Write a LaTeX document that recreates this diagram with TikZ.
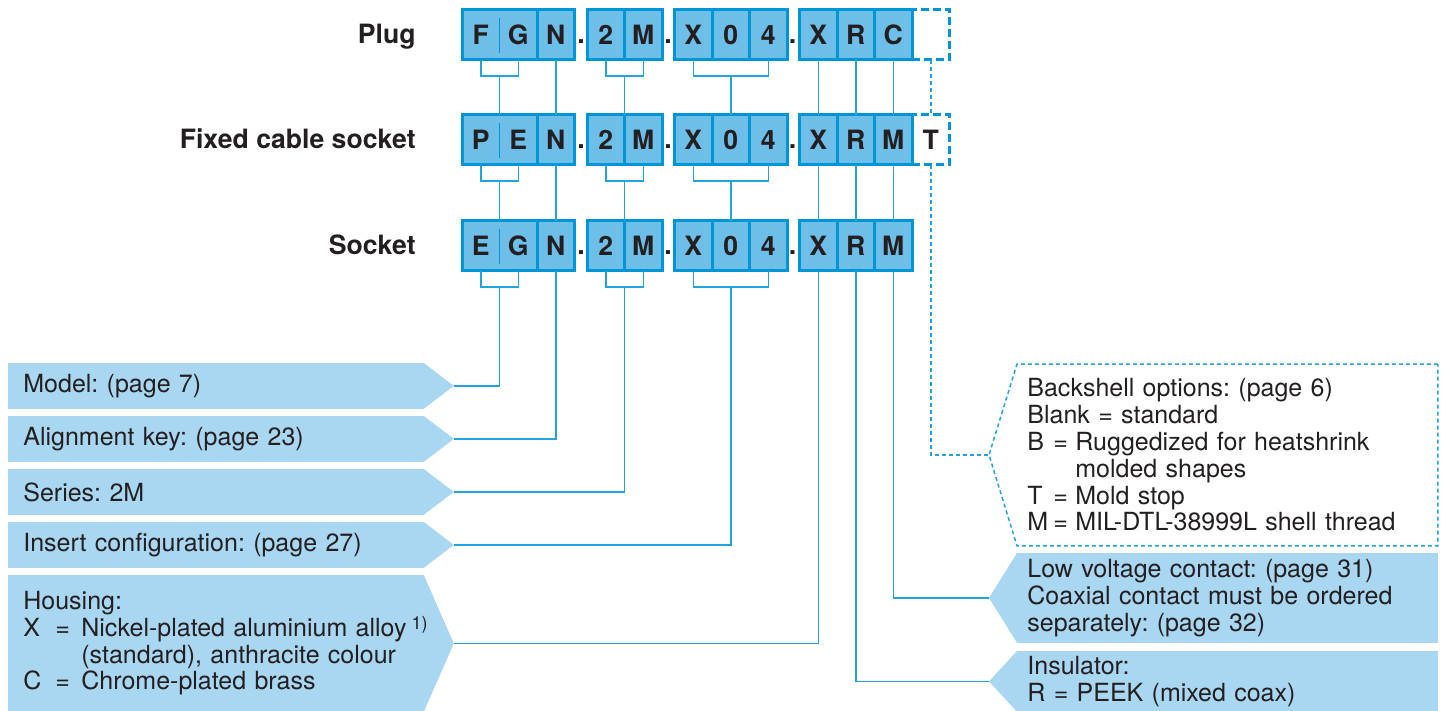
\documentclass[tikz,border=0pt]{standalone}
\usepackage{fontspec}
\setmainfont{TeX Gyre Heros}
\usetikzlibrary{positioning, calc, backgrounds}

\definecolor{cellfill}{HTML}{6DBFE9}
\definecolor{cellline}{HTML}{0096D6}
\definecolor{tagfill}{HTML}{A9D6F1}
\definecolor{linkblue}{HTML}{22A3DD}
\definecolor{ink}{HTML}{231F20}

\newcommand\hkey[1]{\makebox[16pt][l]{#1}\makebox[13pt][l]{=}}
\newcommand\bkey[1]{\makebox[13pt][l]{#1}\makebox[11pt][l]{=}}
\frenchspacing

\begin{document}
\begin{tikzpicture}[
        x=0.5pt, y=-0.5pt,
        font=\fontsize{12.5}{13.4}\selectfont, text=ink,
        cell/.style={draw=cellline, fill=cellfill, line width=1.5pt, minimum width=18.75pt, minimum height=25pt,
            inner sep=0pt, outer sep=0pt, font=\fontsize{13.3}{14}\selectfont\bfseries},
        cellpair/.style={cell, minimum width=37.5pt},
        blank/.style={cell, fill=none, dash pattern=on 4pt off 2pt},
        dotmark/.style={anchor=base, inner sep=0pt, font=\fontsize{13.3}{14}\selectfont\bfseries},
        rowname/.style={anchor=base east, inner sep=0pt, font=\fontsize{13.3}{14}\selectfont\bfseries},
        divline/.style={draw=cellline, line width=0.9pt},
        link/.style={draw=linkblue, line width=0.75pt},
        dashlink/.style={link, dash pattern=on 2pt off 1.5pt},
        tagL/.style={anchor=north west, align=left, text width=192.5pt, inner xsep=7.5pt, inner ysep=0pt},
        tagR/.style={anchor=north west, align=left, text width=200pt, inner xsep=5pt, inner ysep=0pt}
    ]
        \useasboundingbox (0,0) rectangle (1445,711);

        % the three order codes
        \foreach \r/\y/\a/\b/\c/\name in {p/35/F/G/C/Plug, f/140/P/E/M/Fixed cable socket, s/246/E/G/M/Socket} {
            \node[rowname] (\r-name) at (416,\y+9) {\name};
            \node[cellpair] (\r1) at (499.5,\y) {\makebox[18.75pt]{\a}\makebox[18.75pt]{\b}};
            \draw[divline] ([yshift=-4pt]\r1.north) -- ([yshift=3.5pt]\r1.south);
            \node[cell, right=0pt of \r1]    (\r2)  {N};
            \node[cell, right=6.25pt of \r2] (\r3)  {2};
            \node[cell, right=0pt of \r3]    (\r4)  {M};
            \node[cell, right=6.25pt of \r4] (\r5)  {X};
            \node[cell, right=0pt of \r5]    (\r6)  {0};
            \node[cell, right=0pt of \r6]    (\r7)  {4};
            \node[cell, right=6.25pt of \r7] (\r8)  {X};
            \node[cell, right=0pt of \r8]    (\r9)  {R};
            \node[cell, right=0pt of \r9]    (\r10) {\c};
            \node[dotmark] (\r-dot1) at (581,\y+9)   {.};
            \node[dotmark] (\r-dot2) at (668,\y+9)   {.};
            \node[dotmark] (\r-dot3) at (792.5,\y+9) {.};
        }
        \node[blank, right=0pt of p10] (p11) {};
        \node[blank, right=0pt of f10] (f11) {T};

        % description tags
        \node[tagL, minimum height=22.5pt] (model)  at (8,363) {Model: (page 7)};
        \node[tagL, minimum height=22.5pt] (align)  at (8,416) {Alignment key: (page 23)};
        \node[tagL, minimum height=22.5pt] (series) at (8,469) {Series: 2M};
        \node[tagL, minimum height=22.5pt] (insert) at (8,522) {Insert configuration: (page 27)};
        \node[tagL, minimum height=68pt]   (housing) at (8,575) {Housing:\\
            \hkey{X}\mbox{Nickel-plated aluminium alloy}\rlap{\hspace{2.5pt}\raisebox{3.5pt}{\fontsize{9}{9}\selectfont 1)}}\\
            \hspace*{29pt}(standard), anthracite colour\\
            \hkey{C}Chrome-plated brass};
        \node[tagR, minimum height=90.5pt] (back) at (1017,364) {Backshell options: (page 6)\\
            Blank = standard\\
            \bkey{B}Ruggedized for heatshrink\\
            \hspace*{24pt}molded shapes\\
            \bkey{T}Mold stop\\
            \bkey{M}MIL-DTL-38999L shell thread};
        \node[tagR, minimum height=44.5pt] (lowv) at (1017,553) {Low voltage contact: (page 31)\\
            Coaxial contact must be ordered\\
            separately: (page 32)};
        \node[tagR, minimum height=30pt] (insul) at (1017,651) {Insulator:\\R = PEEK (mixed coax)};

        \foreach \n in {model,align,series,insert,housing}
            \coordinate (\n-tip) at ($(\n.east)+(30,0)$);
        \foreach \n in {back,lowv,insul}
            \coordinate (\n-tip) at ($(\n.west)+(-28,0)$);

        \begin{scope}[on background layer]
            \foreach \n in {model,align,series,insert,housing}
                \fill[tagfill] (\n.north west) -- (\n.north east) -- (\n-tip) -- (\n.south east) -- (\n.south west) -- cycle;
            \foreach \n in {lowv,insul}
                \fill[tagfill] (\n.north east) -- (\n.north west) -- (\n-tip) -- (\n.south west) -- (\n.south east) -- cycle;
        \end{scope}
        \draw[dashlink] (back.north east) -- (back.north west) -- (back-tip) -- (back.south west) -- (back.south east) -- cycle;

        % links between the rows
        \foreach \a/\b in {p/f, f/s} {
            \draw[link] ([xshift=-9.375pt]\a1.south) -- ++(0,16) -| ([xshift=9.375pt]\a1.south);
            \draw[link] ([yshift=-8pt]\a1.south) -- (\b1.north);
            \draw[link] (\a2.south) -- (\b2.north);
            \draw[link] (\a3.south) -- ++(0,16) -| (\a4.south);
            \draw[link] ([yshift=-8pt]\a3.south east) -- (\b3.north east);
            \draw[link] (\a5.south) -- ++(0,16) -| (\a7.south);
            \draw[link] ([yshift=-8pt]\a6.south) -- (\b6.north);
            \foreach \i in {8,9,10}
                \draw[link] (\a\i.south) -- (\b\i.north);
        }
        \draw[dashlink] (p11.south) -- (f11.north);

        % links to the tags
        \draw[link] ([xshift=-9.375pt]s1.south) -- ++(0,16) -| ([xshift=9.375pt]s1.south);
        \draw[link] (s3.south) -- ++(0,16) -| (s4.south);
        \draw[link] (s5.south) -- ++(0,16) -| (s7.south);
        \draw[link] ([yshift=-8pt]s1.south) |- (model-tip);
        \draw[link] (s2.south) |- (align-tip);
        \draw[link] ([yshift=-8pt]s3.south east) |- (series-tip);
        \draw[link] ([yshift=-8pt]s6.south) |- (insert-tip);
        \draw[link] (s8.south) |- (housing-tip);
        \draw[link] (s9.south) |- (insul-tip);
        \draw[link] (s10.south) |- (lowv-tip);
        \draw[dashlink] (f11.south) |- (back-tip);
    \end{tikzpicture}
\end{document}
